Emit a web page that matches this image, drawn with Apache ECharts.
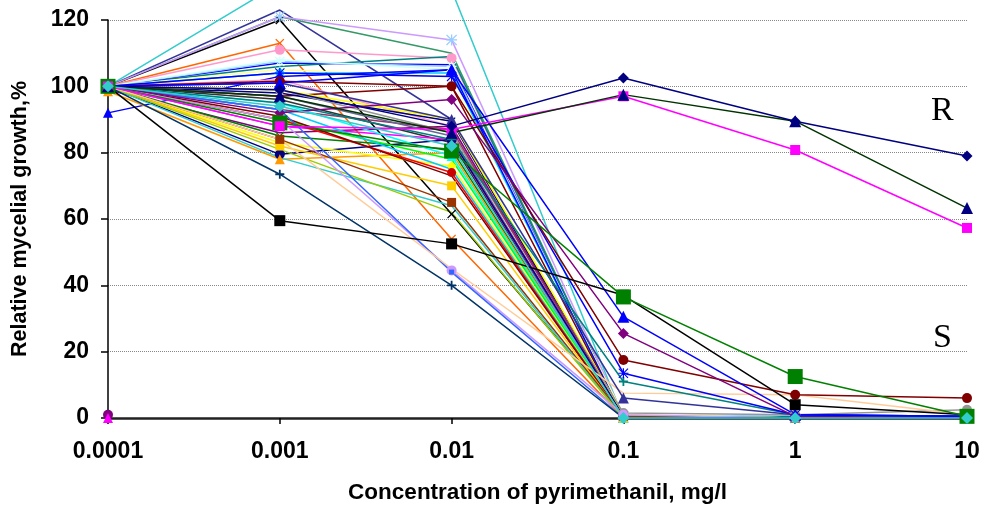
<!DOCTYPE html>
<html>
<head>
<meta charset="utf-8">
<script src="https://cdn.jsdelivr.net/npm/echarts@6/dist/echarts.min.js"></script>
<style>
  html, body { margin: 0; padding: 0; background: #fff; }
  #chart { width: 989px; height: 509px; }
</style>
</head>
<body>
<div id="chart"></div>
<script>
// concentration of pyrimethanil, mg/l (log steps, drawn evenly spaced)
const concentrations = ['0.0001', '0.001', '0.01', '0.1', '1', '10'];

// resistant isolates (R)
const resistDiamond = [100, 99, 88, 102.5, 89.5, 79];
const resistTriangle = [100, 97, 86, 97.5, 89.5, 63.3];
const resistSquare = [100, 88, 87, 97, 80.8, 57.3];

// isolates with some growth left at 0.1 mg/l
const slowGreen = [100, 89, 80.5, 36.5, 12.5, 0.5];
const slowBlack = [100, 59.5, 52.5, 37, 4, 1];
const slowBlue = [100, 101, 105, 30.5, 1, 0.5];
const slowPurple = [100, 92, 96, 25.5, 0.5, 0];
const slowMaroon = [100, 101.5, 100, 17.5, 7, 6];
const slowStar = [100, 104, 103, 13.5, 1, 0.5];
const slowTeal = [100, 95, 84, 11, 1, 0.5];
const slowIndigo = [100, 101, 90, 6, 1, 0.3];
const slowPeach = [100, 84, 45, 7.5, 7, 1];

// sensitive isolates (S)
const sensA = [100, 120, 61.5, 0.5, 0, 0];
const sensB = [100, 113, 54, 0, 0, 0];
const sensC = [100, 73.5, 40, 0, 0, 0];
const sensD = [100, 131, 129, 0, 0, 0];
const sensE = [100, 121, 114, 0.5, 0, 0];
const sensF = [100, 111, 108.5, 0, 0, 0];
const sensG = [100, 104, 104, 0, 0, 0];
const sensH = [100, 107.5, 106, 0, 1, 0];
const sensI = [100, 93, 44, 0, 0, 0];
const sensJ = [100, 90, 44.5, 1, 0, 0];
const sensK = [100, 84, 65, 0.5, 0, 0];
const sensL = [100, 82, 70, 0, 0, 0];
const sensM = [100, 90, 74, 0, 0, 0];
const sensN = [100, 95, 79, 0, 0, 0];
const sensO = [100, 83, 76, 0, 0, 0];
const sensP = [100, 79.5, 84, 0.5, 0, 0];
const sensQ = [98.5, 78, 80, 0, 0, 0];
const sensR = [100, 81, 62, 0, 0, 0];
const sensS = [100, 78.5, 64, 0, 0, 0];
const sensT = [100, 88, 84, 0, 0, 0];
const sensU = [100, 85, 81, 0, 0, 0];
const sensV = [100, 91, 73, 0, 0, 0];
const sensW = [100, 106, 109, 0, 0.5, 0];
const sensX = [100, 107, 106.5, 0, 0, 0];
const sensY = [100, 105, 103, 1, 0, 0];
const sensZ = [100, 98, 89.5, 0, 0, 0];
const sensAA = [100, 93, 87, 0, 0, 0];
const sensAB = [100, 97, 85, 0, 0, 0];
const sensAC = [100, 96, 83, 0, 0, 0];
const sensAD = [100, 90, 78, 0, 0, 0];
const sensAE = [100, 93, 75, 0, 0, 0];
const sensAF = [100, 102, 88, 0, 0, 0];
const sensAG = [100, 97, 100, 0, 0, 0];
const sensAH = [99, 86, 88, 0, 0, 0];
const sensAI = [100, 99, 86, 1.5, 1, 2.5];
const sensAJ = [100, 108, 105, 0.5, 0, 0];
const sensAK = [100, 123, 90, 0, 0, 0];
const sensAL = [100, 121, 110, 0, 0, 0];
const sensAM = [100, 99, 90, 1, 0, 0];
const sensAN = [92, 103, 105, 0, 0, 0];
const sensAO = [1, null, null, null, null, null];
const sensAP = [0, null, null, null, null, null];
const sensAQ = [100, 94, 82, 0, 0, 0];

const X_MARK = 'path://M0,1L1,0L5,4L9,0L10,1L6,5L10,9L9,10L5,6L1,10L0,9L4,5Z';
const PLUS_MARK = 'path://M4,0H6V4H10V6H6V10H4V6H0V4H4Z';
const STAR_MARK = 'path://M4.4,0H5.6V4.4H10V5.6H5.6V10H4.4V5.6H0V4.4H4.4Z M0.8,0L5,4.2L9.2,0L10,0.8L5.8,5L10,9.2L9.2,10L5,5.8L0.8,10L0,9.2L4.2,5L0,0.8Z';

// [data, line colour, marker, marker colour, marker size]
const isolates = [
  [sensD, '#33CCCC', 'none', '#33CCCC', 0],
  [sensAK, '#333399', 'none', '#333399', 0],
  [sensAL, '#339966', 'none', '#339966', 0],
  [sensA, '#000000', X_MARK, '#000000', 9],
  [sensE, '#CC99FF', STAR_MARK, '#99CCFF', 11],
  [sensB, '#FF6600', X_MARK, '#FF6600', 9],
  [sensF, '#FF99CC', 'circle', '#FF99CC', 10],
  [sensW, '#008080', 'none', '#008080', 0],
  [sensX, '#0000FF', 'none', '#0000FF', 0],
  [sensH, '#99CCFF', STAR_MARK, '#CCFFFF', 10],
  [sensAJ, '#CCFFFF', 'none', '#CCFFFF', 0],
  [sensY, '#FFFF99', 'none', '#FFFF99', 0],
  [sensG, '#00CCFF', 'diamond', '#00CCFF', 11],
  [sensAN, '#0000FF', 'triangle', '#0000FF', 10],
  [sensAF, '#FF99CC', 'none', '#FF99CC', 0],
  [sensAG, '#800000', PLUS_MARK, '#800000', 9],
  [sensZ, '#000080', X_MARK, '#000080', 8],
  [sensAM, '#FFFF00', 'none', '#FFFF00', 0],
  [sensAI, '#969696', 'circle', '#969696', 10],
  [sensAH, '#800080', 'none', '#800080', 0],
  [sensAA, '#993366', 'none', '#993366', 0],
  [sensAB, '#666699', 'none', '#666699', 0],
  [sensAC, '#333333', 'none', '#333333', 0],
  [sensT, '#FF00FF', 'rect', '#FF00FF', 9],
  [sensU, '#008000', X_MARK, '#008000', 9],
  [sensP, '#000080', 'circle', '#000080', 10],
  [sensQ, '#FF9900', 'triangle', '#FF9900', 10],
  [sensN, '#00FFFF', 'triangle', '#00FFFF', 10],
  [sensAD, '#00FF00', 'none', '#00FF00', 0],
  [sensO, '#FFFF00', 'diamond', '#FFFF00', 10],
  [sensAE, '#00CCFF', 'none', '#00CCFF', 0],
  [sensM, '#FF0000', 'circle', '#CC0000', 9],
  [sensV, '#800000', 'none', '#800000', 0],
  [sensL, '#FFCC00', 'rect', '#FFCC00', 9],
  [sensK, '#993300', 'rect', '#993300', 9],
  [sensS, '#33CCCC', 'none', '#33CCCC', 0],
  [sensR, '#99CC00', 'none', '#99CC00', 0],
  [sensJ, '#CC99FF', 'circle', '#CC99FF', 10],
  [sensI, '#3366FF', 'rect', '#3366FF', 5],
  [sensC, '#003366', PLUS_MARK, '#003366', 9],
  [slowPeach, '#FFCC99', 'none', '#FFCC99', 0],
  [slowIndigo, '#333399', 'triangle', '#333399', 11],
  [slowTeal, '#008080', PLUS_MARK, '#008080', 9],
  [slowStar, '#0000FF', STAR_MARK, '#0000FF', 10],
  [slowMaroon, '#800000', 'circle', '#800000', 10],
  [slowPurple, '#800080', 'diamond', '#800080', 11],
  [slowBlue, '#0000FF', 'triangle', '#0000FF', 12],
  [slowBlack, '#000000', 'rect', '#000000', 11],
  [slowGreen, '#008000', 'rect', '#008000', 15],
  [resistSquare, '#FF00FF', 'rect', '#FF00FF', 10],
  [resistTriangle, '#003300', 'triangle', '#000080', 12],
  [resistDiamond, '#000080', 'diamond', '#000080', 11],
  [sensAO, '#800080', 'circle', '#800080', 10],
  [sensAP, '#FF00FF', 'triangle', '#FF00FF', 10],
  [sensAQ, '#33CCCC', 'diamond', '#33CCCC', 12]
];

const chart = echarts.init(document.getElementById('chart'), null, { renderer: 'canvas' });

const option = {
  animation: false,
  backgroundColor: '#ffffff',
  grid: { left: 108, right: 22, top: 20, bottom: 91, containLabel: false },
  xAxis: {
    type: 'category',
    data: concentrations,
    boundaryGap: false,
    name: 'Concentration of pyrimethanil, mg/l',
    nameLocation: 'middle',
    nameGap: 63,
    nameTextStyle: { fontFamily: 'Liberation Sans', fontWeight: 'bold', fontSize: 22.5, color: '#000' },
    axisLine: { lineStyle: { color: '#222', width: 2.5 } },
    axisTick: { show: true, length: 6, lineStyle: { color: '#000', width: 1.5 } },
    axisLabel: { margin: 22, fontFamily: 'Liberation Sans', fontWeight: 'bold', fontSize: 23, color: '#000' },
    splitLine: { show: false }
  },
  yAxis: {
    type: 'value',
    min: 0,
    max: 120,
    interval: 20,
    name: 'Relative mycelial growth,%',
    nameLocation: 'middle',
    nameRotate: 90,
    nameGap: 77,
    nameTextStyle: { fontFamily: 'Liberation Sans', fontWeight: 'bold', fontSize: 21.5, color: '#000' },
    axisLine: { show: true, lineStyle: { color: '#000', width: 1.5 } },
    axisTick: { show: true, length: 7, lineStyle: { color: '#000', width: 1.5 } },
    axisLabel: { margin: 19, fontFamily: 'Liberation Sans', fontWeight: 'bold', fontSize: 23, color: '#000' },
    splitLine: { show: true, lineStyle: { color: '#888', width: 1, type: 'dotted' } }
  },
  graphic: [
    { type: 'text', left: 931, top: 94, style: { text: 'R', font: '34px "Liberation Serif"', fill: '#000' } },
    { type: 'text', left: 933, top: 321, style: { text: 'S', font: '34px "Liberation Serif"', fill: '#000' } }
  ],
  series: isolates.map(([values, lineColor, symbol, markColor, size]) => ({
    type: 'line',
    data: values,
    clip: false,
    connectNulls: false,
    symbol: symbol,
    symbolSize: size,
    showAllSymbol: true,
    lineStyle: { color: lineColor, width: 1.5 },
    itemStyle: { color: markColor, borderWidth: 0 },
    emphasis: { disabled: true }
  }))
};

chart.setOption(option);
</script>
</body>
</html>
